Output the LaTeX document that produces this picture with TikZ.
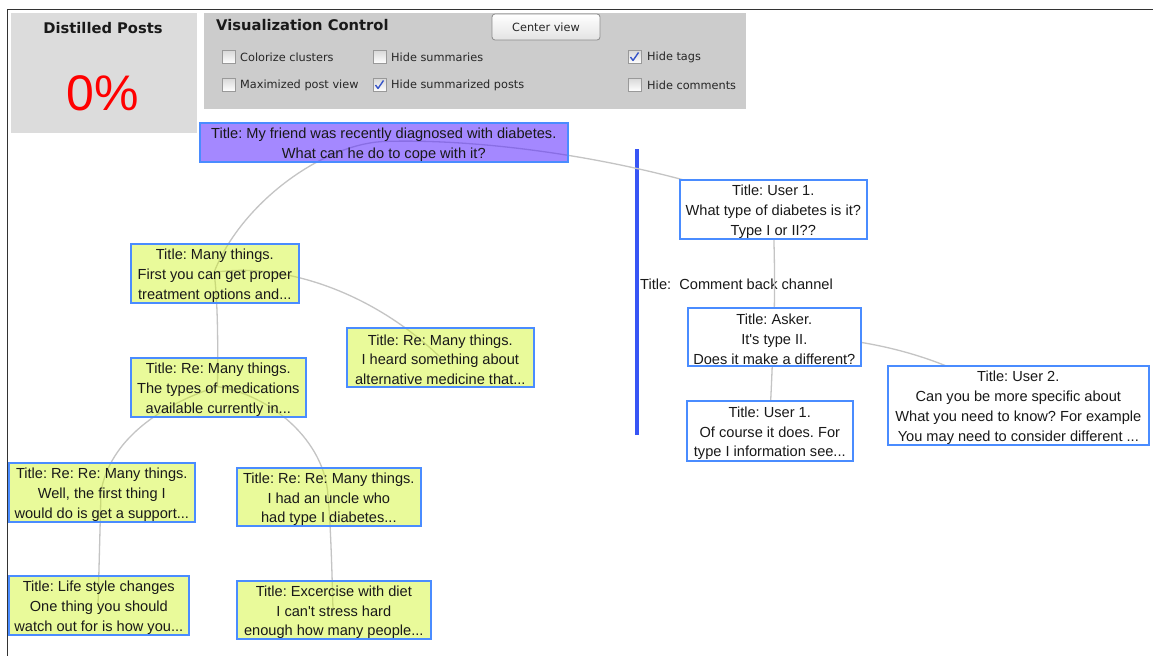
\documentclass[tikz,border=0pt]{standalone}
\usepackage{fontspec}
\setmainfont{Liberation Sans}
\newfontfamily\uifont{DejaVu Sans}
\frenchspacing

\definecolor{postblue}{RGB}{74,140,255}
\definecolor{postyellow}{RGB}{208,244,33}
\definecolor{rootpurple}{RGB}{90,40,255}
\definecolor{linkgray}{RGB}{196,196,196}
\definecolor{panelA}{RGB}{220,220,220}
\definecolor{panelB}{RGB}{204,204,204}
\definecolor{channelblue}{RGB}{55,85,245}
\definecolor{checkblue}{RGB}{55,85,200}

\newcommand\pnfont{\fontsize{14.6}{19.7}\selectfont}
\newcommand\cblfont{\uifont\fontsize{11.3}{13}\selectfont}
\newcommand\panelhead{\uifont\bfseries\fontsize{14.7}{17}\selectfont}
% taller first line, pushes the post text a little lower in its box
\newcommand\firstline{\rule{0pt}{15.5pt}}

\tikzset{
  post/.style={draw=postblue, line width=1.6pt, anchor=north west, align=center,
               inner sep=0pt, font=\pnfont, text=black!90, text opacity=1},
  ypost/.style={post, fill=postyellow, fill opacity=0.45},
  wpost/.style={post, fill=white},
  rpost/.style={post, fill=rootpurple, fill opacity=0.55},
  link/.style={draw=linkgray, line width=1.3pt},
  panel/.style={anchor=north west, inner sep=0pt, draw=none},
  cbox/.style={draw=gray!80, line width=0.8pt, minimum size=13pt, inner sep=0pt,
               top color=gray!30, bottom color=white},
  cblabel/.style={anchor=west, inner sep=0pt, font=\cblfont, text=black!85},
  tick/.style={draw=checkblue, line width=1.4pt, line join=round},
  btn/.style={draw=gray!90, line width=0.8pt, rounded corners=3pt, minimum width=108pt,
              minimum height=26pt, inner sep=0pt, top color=white, bottom color=gray!22,
              font=\cblfont, text=black!85},
  frameline/.style={draw=black!80, line width=1.4pt},
  channel/.style={draw=channelblue, line width=3.6pt}
}

\begin{document}
\begin{tikzpicture}[x=1pt, y=-1pt]
\useasboundingbox (0,0) rectangle (1153,656);
\fill[white] (0,0) rectangle (1153,656);

% window frame
\coordinate (fr1) at (1153,9.5);
\coordinate (fr2) at (7.5,9.5);
\coordinate (fr3) at (7.5,656);
\draw[frameline] (fr1) -- (fr2) -- (fr3);

% distilled posts panel
\node[panel, fill=panelA, minimum width=186pt, minimum height=120pt] (distilled) at (11,13) {};
\node[font=\panelhead, text=black!90] (dtitle) at (103,28) {Distilled Posts};
\node[font=\fontsize{50}{50}\selectfont, text=red] (dpct) at (103,93) {0\%};

% visualization control panel
\node[panel, fill=panelB, minimum width=542pt, minimum height=96pt] (vispanel) at (204,13) {};
\node[anchor=west, inner sep=0pt, font=\panelhead, text=black!90] (vtitle) at (216,25) {Visualization Control};
\node[btn] (centerbtn) at (546,27) {Center view};

\node[cbox] (cb1) at (228.5,57) {};
\node[cblabel] (cl1) at (240,57) {Colorize clusters};
\node[cbox] (cb2) at (379.5,57) {};
\node[cblabel] (cl2) at (391,57) {Hide summaries};
\node[cbox] (cb3) at (634.5,57) {};
\node[cblabel] (cl3) at (647,57) {Hide tags};
\node[cbox] (cb4) at (228.5,85) {};
\node[cblabel] (cl4) at (240,85) {Maximized post view};
\node[cbox] (cb5) at (379.5,85) {};
\node[cblabel] (cl5) at (391,85) {Hide summarized posts};
\node[cbox] (cb6) at (634.5,85) {};
\node[cblabel] (cl6) at (647,85) {Hide comments};

\draw[tick] (cb3.center) +(-4,0) -- +(-1.5,3.5) -- +(4,-4.5);
\draw[tick] (cb5.center) +(-4,0) -- +(-1.5,3.5) -- +(4,-4.5);

% comment back channel divider
\coordinate (chtop) at (637,149);
\coordinate (chbot) at (637,435);
\draw[channel] (chtop) -- (chbot);
\node[anchor=west, inner sep=0pt, font=\pnfont, text=black!90] (chlabel) at (640,284) {Title:\ \ Comment back channel};

% post centres, so the reply links can be laid under the boxes
\coordinate (c-root) at (383,141.5);
\coordinate (c-many) at (214,272.5);
\coordinate (c-remr) at (439.5,356.5);
\coordinate (c-reml) at (217.5,386.5);
\coordinate (c-rerel) at (101,491.5);
\coordinate (c-rerer) at (328,496);
\coordinate (c-life) at (98,604.5);
\coordinate (c-exer) at (333,609);
\coordinate (c-userA) at (772.5,208.5);
\coordinate (c-asker) at (773.5,336);
\coordinate (c-userB) at (769,430);
\coordinate (c-userC) at (1017.5,404.5);

% reply links
\draw[link] (c-root) .. controls (320,145) and (240,205) .. (c-many);
\draw[link] (c-root) .. controls (480,138) and (640,158) .. (c-userA);
\draw[link] (c-many) .. controls (280,262) and (370,290) .. (c-remr);
\draw[link] (c-many) .. controls (218,300) and (218,350) .. (c-reml);
\draw[link] (c-reml) .. controls (160,405) and (110,440) .. (c-rerel);
\draw[link] (c-reml) .. controls (270,395) and (325,440) .. (c-rerer);
\draw[link] (c-rerel) .. controls (100,530) and (99,570) .. (c-life);
\draw[link] (c-rerer) .. controls (331,530) and (332,575) .. (c-exer);
\draw[link] (c-userA) .. controls (775,250) and (775,300) .. (c-asker);
\draw[link] (c-asker) .. controls (772,370) and (771,400) .. (c-userB);
\draw[link] (c-asker) .. controls (850,335) and (940,350) .. (c-userC);

% posts
\node[rpost, minimum width=368pt, minimum height=39pt] (root) at (199,122)
  {\firstline Title: My friend was recently diagnosed with diabetes.\\What can he do to cope with it?};

\node[ypost, minimum width=168pt, minimum height=59pt] (many) at (130,243)
  {\firstline Title: Many things.\\First you can get proper\\treatment options and...};
\node[ypost, minimum width=187pt, minimum height=59pt] (remr) at (346,327)
  {\firstline Title: Re: Many things.\\I heard something about\\alternative medicine that...};
\node[ypost, minimum width=175pt, minimum height=59pt] (reml) at (130,357)
  {\firstline Title: Re: Many things.\\The types of medications\\available currently in...};
\node[ypost, minimum width=186pt, minimum height=59pt] (rerel) at (8,462)
  {\firstline Title: Re: Re: Many things.\\Well, the first thing I\\would do is get a support...};
\node[ypost, minimum width=184pt, minimum height=58pt] (rerer) at (236,467)
  {\firstline Title: Re: Re: Many things.\\I had an uncle who\\had type I diabetes...};
\node[ypost, minimum width=180pt, minimum height=59pt] (life) at (8,575)
  {\firstline Title: Life style changes\\One thing you should\\watch out for is how you...};
\node[ypost, minimum width=194pt, minimum height=58pt] (exer) at (236,580)
  {\firstline Title: Excercise with diet\\I can\textquotesingle t stress hard\\enough how many people...};

\node[wpost, minimum width=187pt, minimum height=59pt] (userA) at (679,179)
  {\firstline Title: User 1.\\What type of diabetes is it?\\Type I or II??};
\node[wpost, minimum width=173pt, minimum height=58pt] (asker) at (687,307)
  {\firstline Title: Asker.\\It\textquotesingle s type II.\\Does it make a different?};
\node[wpost, minimum width=166pt, minimum height=60pt] (userB) at (686,400)
  {\firstline Title: User 1.\\Of course it does. For\\type I information see...};
\node[wpost, minimum width=261pt, minimum height=79pt] (userC) at (887,365)
  {\firstline Title: User 2.\\Can you be more specific about\\What you need to know? For example\\You may need to consider different ...};
\end{tikzpicture}
\end{document}
